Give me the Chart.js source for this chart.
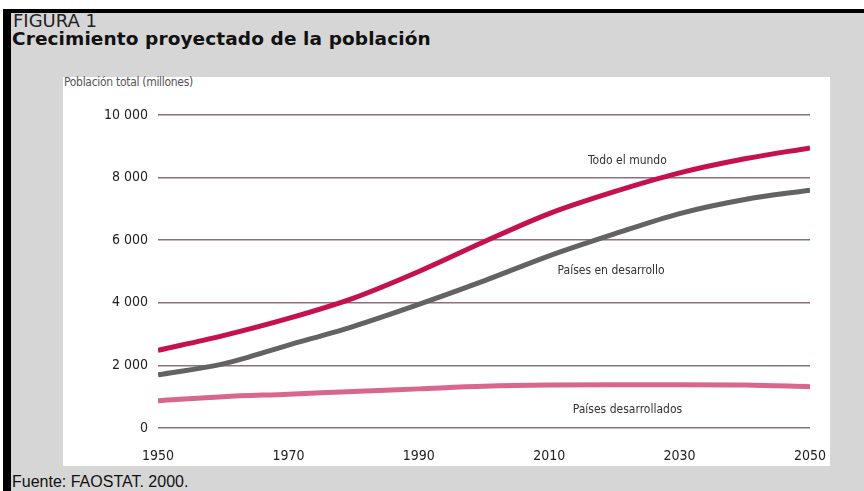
<!DOCTYPE html>
<html lang="es">
<head>
<meta charset="utf-8">
<title>Crecimiento proyectado de la población</title>
<script src="https://cdn.jsdelivr.net/npm/chart.js@4/dist/chart.umd.min.js"></script>
<style>
  html, body { margin: 0; padding: 0; background: #ffffff; overflow: hidden; }
  body { width: 864px; height: 491px; position: relative; }
  #panel {
    position: absolute; left: 3px; top: 9px; width: 853px; height: 478px;
    background: #d6d6d6; border-top: 4px solid #000; border-left: 8px solid #000;
  }
  #plotbox { position: absolute; left: 63px; top: 77px; width: 767px; height: 389px; background: #ffffff; }
  .t { position: absolute; white-space: nowrap; color: #1a1a1a; }
  #fig { left: 13px; top: 10px; font: 18px "DejaVu Sans", sans-serif; color: #222; }
  #ttl { left: 12px; top: 28px; font: bold 18.5px "DejaVu Sans", sans-serif; color: #111; letter-spacing: 0.1px; }
  #unit { left: 64px; top: 75px; font: 12px "DejaVu Sans Condensed", sans-serif; color: #555; letter-spacing: -0.3px; }
  #src { left: 12px; top: 473px; font: 16px "Liberation Sans", Arial, sans-serif; color: #111; }
  canvas { position: absolute; left: 0; top: 0; }
</style>
</head>
<body>
<div id="panel"></div>
<div id="plotbox"></div>
<div class="t" id="fig">FIGURA 1</div>
<div class="t" id="ttl">Crecimiento proyectado de la población</div>
<div class="t" id="unit">Población total (millones)</div>
<div class="t" id="src">Fuente: FAOSTAT. 2000.</div>
<canvas id="chart" width="864" height="491"></canvas>
<script>
// Population in millions, by decade
const years = [1950, 1960, 1970, 1980, 1990, 2000, 2010, 2020, 2030, 2040, 2050];
const mundo = [2480, 2950, 3500, 4150, 5000, 5950, 6850, 7550, 8150, 8600, 8950];
const enDesarrollo = [1700, 2050, 2650, 3250, 3950, 4700, 5500, 6200, 6850, 7300, 7600];
const desarrollados = [870, 1000, 1080, 1170, 1250, 1330, 1370, 1380, 1380, 1370, 1320];

const yTicks = [0, 2000, 4000, 6000, 8000, 10000];
const xTicks = [1950, 1970, 1990, 2010, 2030, 2050];

// Series names placed next to their curves (year, value)
const seriesLabels = [
  { text: 'Todo el mundo', year: 2022, value: 8520 },
  { text: 'Países en desarrollo', year: 2019.5, value: 5020 },
  { text: 'Países desarrollados', year: 2022, value: 570 }
];

const pts = vals => years.map((y, i) => ({ x: y, y: vals[i] }));
const fmtThousands = v => v >= 1000 ? Math.floor(v / 1000) + ' ' + String(v % 1000).padStart(3, '0') : String(v);
const narrow = '"DejaVu Sans Condensed", sans-serif';

const labelPlugin = {
  id: 'seriesLabels',
  afterDatasetsDraw(chart) {
    const { ctx, scales: { x, y } } = chart;
    ctx.save();
    ctx.font = '12px ' + narrow;
    ctx.fillStyle = '#333333';
    ctx.textAlign = 'center';
    ctx.textBaseline = 'middle';
    seriesLabels.forEach(l => ctx.fillText(l.text, x.getPixelForValue(l.year), y.getPixelForValue(l.value)));
    ctx.restore();
  }
};

new Chart(document.getElementById('chart'), {
  type: 'line',
  data: {
    datasets: [
      { label: 'Todo el mundo', data: pts(mundo), borderColor: '#c5114f', borderWidth: 5 },
      { label: 'Países en desarrollo', data: pts(enDesarrollo), borderColor: '#636363', borderWidth: 5 },
      { label: 'Países desarrollados', data: pts(desarrollados), borderColor: '#d9668f', borderWidth: 5 }
    ]
  },
  options: {
    responsive: false,
    animation: false,
    devicePixelRatio: 1,
    layout: { padding: { left: 0, top: 115, right: 54, bottom: 23 } },
    elements: {
      point: { radius: 0 },
      line: { cubicInterpolationMode: 'monotone', borderCapStyle: 'butt' }
    },
    plugins: { legend: { display: false }, tooltip: { enabled: false } },
    scales: {
      x: {
        type: 'linear', min: 1950, max: 2050,
        afterBuildTicks: s => { s.ticks = xTicks.map(v => ({ value: v })); },
        afterFit: s => { s.height = 40; },
        grid: { display: false, drawTicks: false },
        border: { display: false },
        ticks: {
          padding: 20, color: '#222',
          font: { family: narrow, size: 14 },
          callback: v => String(v)
        }
      },
      y: {
        min: 0, max: 10000,
        afterBuildTicks: s => { s.ticks = yTicks.map(v => ({ value: v })); },
        afterFit: s => { s.width = 158; },
        grid: { color: '#8d6f7d', lineWidth: 1.5, drawTicks: false },
        border: { display: false },
        ticks: {
          padding: 10, color: '#222',
          font: { family: narrow, size: 14 },
          callback: v => fmtThousands(v)
        }
      }
    }
  },
  plugins: [labelPlugin]
});
</script>
</body>
</html>
